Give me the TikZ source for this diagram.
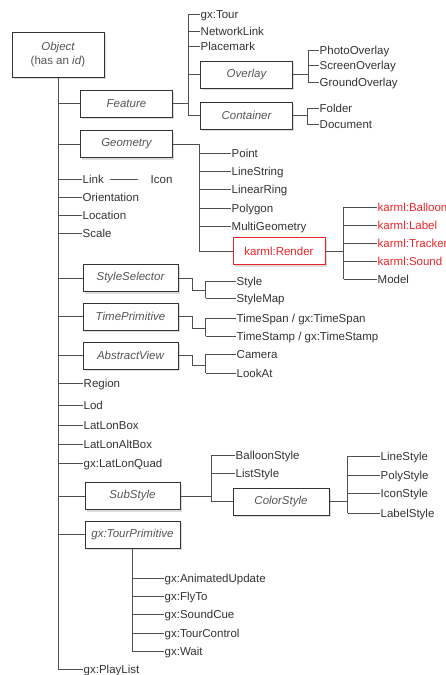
\documentclass[tikz,border=0pt]{standalone}
\usepackage{fontspec}
\setmainfont{Liberation Sans}
\usetikzlibrary{shadows}
\definecolor{kmlline}{HTML}{505050}
\definecolor{kmltext}{HTML}{333333}
\definecolor{kmlbox}{HTML}{555555}
\definecolor{kmlred}{HTML}{E8262A}
\newcommand{\kmlfont}{\fontsize{11.5}{13}\selectfont}
\tikzset{
  box/.style={draw=black!80, line width=1pt, fill=white, minimum width=92pt,
    minimum height=27pt, inner sep=0pt, font=\kmlfont\itshape, text=kmlbox,
    drop shadow={opacity=0.28, shadow xshift=1.8pt, shadow yshift=-2.4pt}},
  redbox/.style={box, draw=kmlred, text=kmlred, font=\kmlfont},
  lbl/.style={anchor=west, inner sep=0.5pt, text height=8.3pt, text depth=0pt,
    text=kmltext, font=\kmlfont},
  redlbl/.style={lbl, text=kmlred},
  conn/.style={draw=kmlline, line width=0.9pt}
}
\begin{document}
\begin{tikzpicture}[x=1pt, y=-1pt, font=\kmlfont]
\useasboundingbox (0,0) rectangle (445,675);

\node[box, minimum height=45pt, align=center] (obj) at (58,54.5)
  {Object\\[1pt]{\upshape (has an \textit{id})}};

% Feature branch
\node[box] (feature) at (126.5,103.5) {Feature};
\node[lbl] (tour) at (200,14) {gx:Tour};
\node[lbl] (netlink) at (200,31) {NetworkLink};
\node[lbl] (placemark) at (200,46) {Placemark};
\node[box] (overlay) at (246.5,74.5) {Overlay};
\node[box] (container) at (246.5,115.5) {Container};
\node[lbl] (photo) at (319,50) {PhotoOverlay};
\node[lbl] (screen) at (319,65) {ScreenOverlay};
\node[lbl] (ground) at (319,82) {GroundOverlay};
\node[lbl] (folder) at (319,108) {Folder};
\node[lbl] (document) at (319,124) {Document};

% Geometry branch
\node[box] (geometry) at (126.5,144) {Geometry};
\node[lbl] (point) at (231,153) {Point};
\node[lbl] (linestring) at (231,171) {LineString};
\node[lbl] (linearring) at (231,189) {LinearRing};
\node[lbl] (polygon) at (231,208) {Polygon};
\node[lbl] (multigeom) at (231,226) {MultiGeometry};
\node[redbox] (render) at (279,251) {karml:Render};
\node[redlbl] (balloon) at (377,207) {karml:Balloon};
\node[redlbl] (label) at (377,225) {karml:Label};
\node[redlbl] (tracker) at (377,243) {karml:Tracker};
\node[redlbl] (sound) at (377,261) {karml:Sound};
\node[lbl] (model) at (377,279) {Model};

\node[lbl] (link) at (82,179) {Link};
\node[lbl] (icon) at (150,179) {Icon};
\node[lbl] (orient) at (82,197) {Orientation};
\node[lbl] (location) at (82,215) {Location};
\node[lbl] (scale) at (82,233) {Scale};

\node[box, minimum width=95pt] (stylesel) at (130.5,278) {StyleSelector};
\node[lbl] (style) at (236,281) {Style};
\node[lbl] (stylemap) at (236,298) {StyleMap};
\node[box, minimum width=95pt] (timeprim) at (130.5,316.5) {TimePrimitive};
\node[lbl] (timespan) at (236,318) {TimeSpan / gx:TimeSpan};
\node[lbl] (timestamp) at (236,336) {TimeStamp / gx:TimeStamp};
\node[box, minimum width=95pt] (absview) at (130.5,355.5) {AbstractView};
\node[lbl] (camera) at (236,354) {Camera};
\node[lbl] (lookat) at (236,373) {LookAt};

\node[lbl] (region) at (83,383) {Region};
\node[lbl] (lod) at (83,405) {Lod};
\node[lbl] (llbox) at (83,425) {LatLonBox};
\node[lbl] (llaltbox) at (83,444) {LatLonAltBox};
\node[lbl] (llquad) at (83,463) {gx:LatLonQuad};

% SubStyle branch
\node[box, minimum width=95pt] (substyle) at (132.5,496) {SubStyle};
\node[lbl] (balloonstyle) at (235,455) {BalloonStyle};
\node[lbl] (liststyle) at (235,473) {ListStyle};
\node[box, minimum width=96pt] (colorstyle) at (281,501.5) {ColorStyle};
\node[lbl] (linestyle) at (380,456) {LineStyle};
\node[lbl] (polystyle) at (380,475) {PolyStyle};
\node[lbl] (iconstyle) at (380,493) {IconStyle};
\node[lbl] (labelstyle) at (380,513) {LabelStyle};

% tour primitives
\node[box, minimum width=95pt] (tourprim) at (132.5,534.5) {gx:TourPrimitive};
\node[lbl] (animupdate) at (164,578) {gx:AnimatedUpdate};
\node[lbl] (flyto) at (164,596) {gx:FlyTo};
\node[lbl] (soundcue) at (164,614) {gx:SoundCue};
\node[lbl] (tourctrl) at (164,633) {gx:TourControl};
\node[lbl] (wait) at (164,651) {gx:Wait};
\node[lbl] (playlist) at (83,669) {gx:PlayList};

% trunk
\draw[conn] (obj.south) -- (obj.south |- playlist.west) -- (playlist.west);
\draw[conn] (obj.south |- feature.west) -- (feature.west);
\draw[conn] (obj.south |- geometry.west) -- (geometry.west);
\draw[conn] (obj.south |- link.west) -- (link.west);
\draw[conn] (obj.south |- orient.west) -- (orient.west);
\draw[conn] (obj.south |- location.west) -- (location.west);
\draw[conn] (obj.south |- scale.west) -- (scale.west);
\draw[conn] (obj.south |- stylesel.west) -- (stylesel.west);
\draw[conn] (obj.south |- timeprim.west) -- (timeprim.west);
\draw[conn] (obj.south |- absview.west) -- (absview.west);
\draw[conn] (obj.south |- region.west) -- (region.west);
\draw[conn] (obj.south |- lod.west) -- (lod.west);
\draw[conn] (obj.south |- llbox.west) -- (llbox.west);
\draw[conn] (obj.south |- llaltbox.west) -- (llaltbox.west);
\draw[conn] (obj.south |- llquad.west) -- (llquad.west);
\draw[conn] (obj.south |- substyle.west) -- (substyle.west);
\draw[conn] (obj.south |- tourprim.west) -- (tourprim.west);
\draw[conn] ([xshift=6pt]link.east) -- ([xshift=-12pt]icon.west);

% Feature
\draw[conn] (feature.east) -- ++(15,0) coordinate (fbus);
\draw[conn] (fbus |- tour.west) -- (fbus |- container.west);
\draw[conn] (fbus |- tour.west) -- (tour.west);
\draw[conn] (fbus |- netlink.west) -- (netlink.west);
\draw[conn] (fbus |- placemark.west) -- (placemark.west);
\draw[conn] (fbus |- overlay.west) -- (overlay.west);
\draw[conn] (fbus |- container.west) -- (container.west);
\draw[conn] (overlay.east) -- ++(15,0) coordinate (obus);
\draw[conn] (obus |- photo.west) -- (obus |- ground.west);
\draw[conn] (obus |- photo.west) -- (photo.west);
\draw[conn] (obus |- screen.west) -- (screen.west);
\draw[conn] (obus |- ground.west) -- (ground.west);
\draw[conn] (container.east) -- ++(14,0) coordinate (cbus);
\draw[conn] (cbus |- folder.west) -- (cbus |- document.west);
\draw[conn] (cbus |- folder.west) -- (folder.west);
\draw[conn] (cbus |- document.west) -- (document.west);

% Geometry
\draw[conn] (geometry.east) -- ++(26,0) coordinate (gbus) -- (gbus |- render.west) -- (render.west);
\draw[conn] (gbus |- point.west) -- (point.west);
\draw[conn] (gbus |- linestring.west) -- (linestring.west);
\draw[conn] (gbus |- linearring.west) -- (linearring.west);
\draw[conn] (gbus |- polygon.west) -- (polygon.west);
\draw[conn] (gbus |- multigeom.west) -- (multigeom.west);
\draw[conn] (render.east) -- ++(18,0) coordinate (rbus);
\draw[conn] (rbus |- balloon.west) -- (rbus |- model.west);
\draw[conn] (rbus |- balloon.west) -- (balloon.west);
\draw[conn] (rbus |- label.west) -- (label.west);
\draw[conn] (rbus |- tracker.west) -- (tracker.west);
\draw[conn] (rbus |- sound.west) -- (sound.west);
\draw[conn] (rbus |- model.west) -- (model.west);

% selectors
\draw[conn] (stylesel.east) -- ++(14,0) -- ++(0,12) -- ++(13,0) coordinate (sbus);
\draw[conn] (sbus |- style.west) -- (sbus |- stylemap.west);
\draw[conn] (sbus |- style.west) -- (style.west);
\draw[conn] (sbus |- stylemap.west) -- (stylemap.west);
\draw[conn] (timeprim.east) -- ++(14,0) -- ++(0,12) -- ++(13,0) coordinate (tbus);
\draw[conn] (tbus |- timespan.west) -- (tbus |- timestamp.west);
\draw[conn] (tbus |- timespan.west) -- (timespan.west);
\draw[conn] (tbus |- timestamp.west) -- (timestamp.west);
\draw[conn] (absview.east) -- ++(14,0) -- ++(0,10) -- ++(13,0) coordinate (abus);
\draw[conn] (abus |- camera.west) -- (abus |- lookat.west);
\draw[conn] (abus |- camera.west) -- (camera.west);
\draw[conn] (abus |- lookat.west) -- (lookat.west);

% SubStyle
\draw[conn] (substyle.east) -- ++(31,0) coordinate (ssbus);
\draw[conn] (ssbus |- balloonstyle.west) -- (ssbus |- colorstyle.west);
\draw[conn] (ssbus |- balloonstyle.west) -- (balloonstyle.west);
\draw[conn] (ssbus |- liststyle.west) -- (liststyle.west);
\draw[conn] (ssbus |- colorstyle.west) -- (colorstyle.west);
\draw[conn] (colorstyle.east) -- ++(18,0) coordinate (csbus);
\draw[conn] (csbus |- linestyle.west) -- (csbus |- labelstyle.west);
\draw[conn] (csbus |- linestyle.west) -- (linestyle.west);
\draw[conn] (csbus |- polystyle.west) -- (polystyle.west);
\draw[conn] (csbus |- iconstyle.west) -- (iconstyle.west);
\draw[conn] (csbus |- labelstyle.west) -- (labelstyle.west);

% gx:TourPrimitive
\draw[conn] (tourprim.south) -- (tourprim.south |- wait.west) -- (wait.west);
\draw[conn] (tourprim.south |- animupdate.west) -- (animupdate.west);
\draw[conn] (tourprim.south |- flyto.west) -- (flyto.west);
\draw[conn] (tourprim.south |- soundcue.west) -- (soundcue.west);
\draw[conn] (tourprim.south |- tourctrl.west) -- (tourctrl.west);
\end{tikzpicture}
\end{document}
